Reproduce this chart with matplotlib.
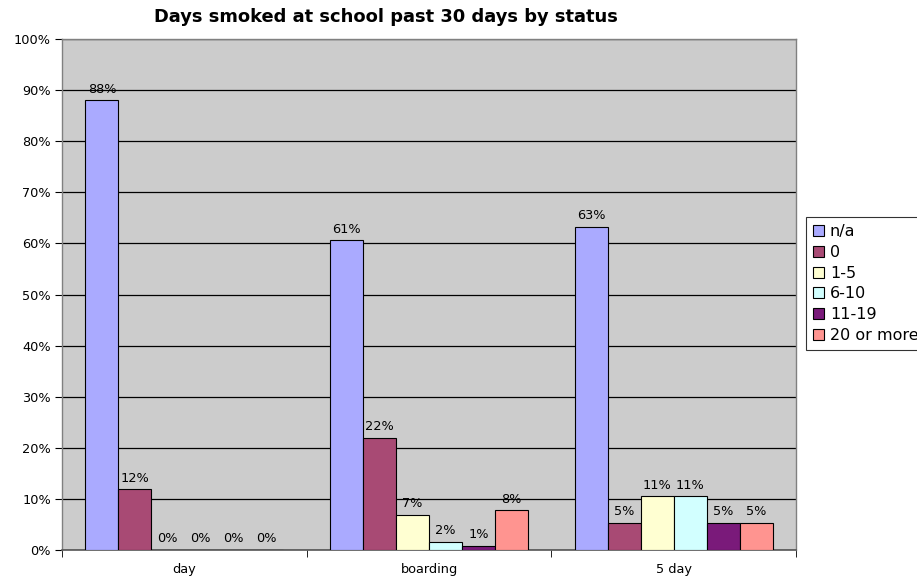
import matplotlib
matplotlib.use("Agg")
import matplotlib.pyplot as plt
import numpy as np
from matplotlib.patches import Patch

categories = ["day", "boarding", "5 day"]
series_names = ["n/a", "0", "1-5", "6-10", "11-19", "20 or more"]
values = {
    "n/a":        [88.0, 60.6, 63.2],
    "0":          [11.9, 21.9, 5.3],
    "1-5":        [0.0, 6.9, 10.5],
    "6-10":       [0.0, 1.6, 10.5],
    "11-19":      [0.0, 0.8, 5.3],
    "20 or more": [0.0, 7.8, 5.3],
}
labels = {
    "n/a":        ["88%", "61%", "63%"],
    "0":          ["12%", "22%", "5%"],
    "1-5":        ["0%", "7%", "11%"],
    "6-10":       ["0%", "2%", "11%"],
    "11-19":      ["0%", "1%", "5%"],
    "20 or more": ["0%", "8%", "5%"],
}
colors = ["#AAAAFF", "#A84A74", "#FFFFD2", "#D2FFFF", "#7A1A7A", "#FF9490"]

plt.rcParams['font.family'] = ['DejaVu Sans']
fs = 9.3

fig = plt.figure(figsize=(9.17, 5.82), dpi=100)
W, H = 917, 582
x0, x1, y0, y1 = 62, 796, 550, 39
ax = fig.add_axes([x0 / W, (H - y0) / H, (x1 - x0) / W, (y0 - y1) / H])
ax.set_facecolor("#CCCCCC")

n = len(series_names)
bw = 0.1347
x = np.arange(len(categories))
for i, name in enumerate(series_names):
    pos = x - n * bw / 2 + bw * (i + 0.5)
    ax.bar(pos, values[name], width=bw, color=colors[i], edgecolor="black",
           linewidth=0.8, zorder=3)
    for p, v, t in zip(pos, values[name], labels[name]):
        ax.text(p, v + 0.9, t, ha="center", va="bottom", fontsize=fs, zorder=4)

ax.set_xlim(-0.5, len(categories) - 0.5)
ax.set_ylim(0, 100)
ax.set_yticks(np.arange(0, 101, 10))
ax.set_yticklabels([f"{v}%" for v in range(0, 101, 10)], fontsize=fs)
ax.yaxis.grid(True, color="black", linewidth=0.9, zorder=1)
ax.set_axisbelow(True)

ax.set_xticks(x)
ax.set_xticklabels(categories, fontsize=fs)
ax.tick_params(axis="x", which="major", length=0, pad=9)
ax.set_xticks(np.arange(-0.5, len(categories), 1.0), minor=True)
ax.tick_params(axis="x", which="minor", length=5, direction="out", color="black")
ax.tick_params(axis="y", length=5, direction="out", color="black", pad=3)

for s in ["left", "top", "right"]:
    ax.spines[s].set_color("#808080")
    ax.spines[s].set_linewidth(1.0)
ax.spines["bottom"].set_color("#555555")
ax.spines["bottom"].set_linewidth(1.2)

fig.text(386 / W, 1 - 17 / H, "Days smoked at school past 30 days by status",
         ha="center", va="center", fontsize=12.9, fontweight="bold")

handles = [Patch(facecolor=colors[i], edgecolor="black", linewidth=0.8)
           for i in range(n)]
leg = fig.legend(handles, series_names, loc="upper left",
                 bbox_to_anchor=(806 / W, 1 - 217 / H), fontsize=11.5,
                 frameon=True, fancybox=False, handlelength=0.7,
                 handleheight=0.7, handletextpad=0.35, labelspacing=0.36,
                 borderpad=0.45, borderaxespad=0)
leg.get_frame().set_edgecolor("black")
leg.get_frame().set_linewidth(0.8)

fig.savefig("out.png", dpi=100)
